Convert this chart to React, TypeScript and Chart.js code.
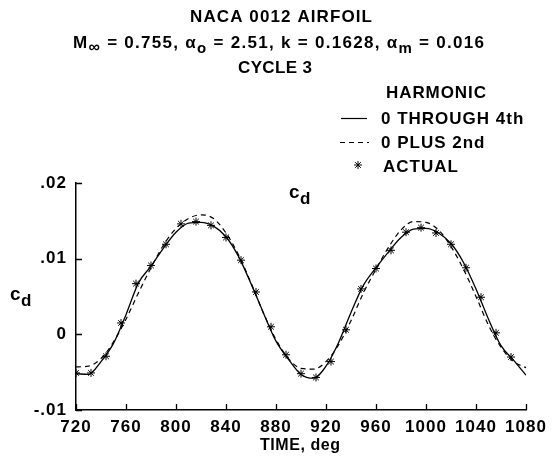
import React, { useEffect, useRef } from "react";
import { Chart, registerables } from "chart.js";

Chart.register(...registerables);

// ---------- data ----------
const curveTime = [720, 730, 740, 750, 760, 770, 780, 790, 800, 810, 820, 830, 840, 850, 860, 870, 880, 890, 900, 910, 920, 930, 940, 950, 960, 970, 980, 990, 1000, 1010, 1020, 1030, 1040, 1050, 1060, 1070, 1080];
const harmonic0to4 = [-0.0052, -0.0053, -0.0036, -0.0012, 0.0026, 0.0068, 0.0090, 0.0114, 0.0135, 0.0147, 0.0148, 0.0143, 0.0129, 0.0103, 0.0067, 0.0028, -0.0009, -0.0033, -0.0053, -0.0058, -0.0042, -0.0011, 0.0029, 0.0065, 0.0088, 0.0109, 0.0128, 0.0139, 0.0140, 0.0134, 0.0120, 0.0095, 0.0060, 0.0020, -0.0015, -0.0034, -0.0054];
const harmonic0plus2 = [-0.0043, -0.0042, -0.0032, -0.0010, 0.0020, 0.0055, 0.0088, 0.0118, 0.0140, 0.0153, 0.0158, 0.0153, 0.0134, 0.0105, 0.0068, 0.0028, -0.0007, -0.0032, -0.0045, -0.0046, -0.0036, -0.0014, 0.0018, 0.0055, 0.0086, 0.0115, 0.0138, 0.0149, 0.0148, 0.0138, 0.0116, 0.0086, 0.0050, 0.0012, -0.0017, -0.0036, -0.0044];
const actualTime = [720, 732, 744, 756, 768, 780, 792, 804, 816, 828, 840, 852, 864, 876, 888, 900, 912, 924, 936, 948, 960, 972, 984, 996, 1008, 1020, 1032, 1044, 1056, 1068];
const actualCd = [-0.0051, -0.0051, -0.0029, 0.0015, 0.0067, 0.0091, 0.0119, 0.0146, 0.0149, 0.0144, 0.0128, 0.0098, 0.0056, 0.0010, -0.0027, -0.0052, -0.0057, -0.0036, 0.0006, 0.0060, 0.0087, 0.0111, 0.0135, 0.0141, 0.0134, 0.0119, 0.0088, 0.0049, 0.0002, -0.0030];

const xTickValues = [720, 760, 800, 840, 880, 920, 960, 1000, 1040, 1080];
const yTickValues = [-0.01, 0, 0.01, 0.02];
const yTickLabels = ["-.01", "0", ".01", ".02"];

const titleLine1 = "NACA 0012 AIRFOIL";
const titleLine3 = "CYCLE 3";
const legendHeader = "HARMONIC";
const legendLabels = ["0 THROUGH 4th", "0 PLUS 2nd", "ACTUAL"];
const xAxisTitle = "TIME, deg";

const FONT = '"Liberation Sans", Arial, Helvetica, sans-serif';
const f = (size: number) => `bold ${size}px ${FONT}`;

type Seg = { t: string; size: number; dy: number };

// draw a run of text segments so that it spans exactly x0..x1 (letter spacing is adjusted)
function drawFit(ctx: CanvasRenderingContext2D, segs: Seg[], x0: number, x1: number, base: number) {
  const c = ctx as any;
  c.letterSpacing = "0px";
  let total = 0;
  let n = 0;
  segs.forEach((s) => {
    ctx.font = f(s.size);
    total += ctx.measureText(s.t).width;
    n += s.t.length;
  });
  const sp = (x1 - x0 - total) / Math.max(1, n - 1);
  c.letterSpacing = `${sp}px`;
  ctx.textAlign = "left";
  ctx.textBaseline = "alphabetic";
  let x = x0;
  segs.forEach((s) => {
    ctx.font = f(s.size);
    ctx.fillText(s.t, x, base + s.dy);
    c.letterSpacing = "0px";
    const w = ctx.measureText(s.t).width;
    c.letterSpacing = `${sp}px`;
    x += w + sp * s.t.length;
  });
}

function drawLeft(ctx: CanvasRenderingContext2D, segs: Seg[], x0: number, base: number, sp = 1) {
  const c = ctx as any;
  ctx.textAlign = "left";
  ctx.textBaseline = "alphabetic";
  let x = x0;
  segs.forEach((s) => {
    ctx.font = f(s.size);
    c.letterSpacing = "0px";
    const w = ctx.measureText(s.t).width;
    c.letterSpacing = `${sp}px`;
    ctx.fillText(s.t, x, base + s.dy);
    x += w + sp * s.t.length;
  });
}

const decorPlugin = {
  id: "decor",
  beforeDraw(chart: any) {
    (chart.ctx as any).letterSpacing = "1px";
  },
  afterDraw(chart: any) {
    const ctx: CanvasRenderingContext2D = chart.ctx;
    const xs = chart.scales.x;
    const ys = chart.scales.y;
    const area = chart.chartArea;
    ctx.save();
    ctx.strokeStyle = "#000";
    ctx.fillStyle = "#000";
    ctx.lineWidth = 1.3;
    // inward tick marks
    ctx.beginPath();
    xTickValues.forEach((v) => {
      const px = Math.round(xs.getPixelForValue(v)) + 0.5;
      ctx.moveTo(px, area.bottom);
      ctx.lineTo(px, area.bottom - 6);
    });
    yTickValues.forEach((v) => {
      const py = Math.round(ys.getPixelForValue(v)) + 0.5;
      ctx.moveTo(area.left, py);
      ctx.lineTo(area.left + 6, py);
    });
    ctx.stroke();

    // titles
    drawFit(ctx, [{ t: titleLine1, size: 17, dy: 0 }], 190, 372, 22);
    drawFit(
      ctx,
      [
        { t: "M", size: 17, dy: 0 },
        { t: "\u221E", size: 16, dy: 4 },
        { t: " = 0.755, \u03B1", size: 17, dy: 0 },
        { t: "o", size: 15, dy: 5 },
        { t: " = 2.51, k = 0.1628, \u03B1", size: 17, dy: 0 },
        { t: "m", size: 15, dy: 5 },
        { t: " = 0.016", size: 17, dy: 0 },
      ],
      73,
      484,
      48
    );
    drawFit(ctx, [{ t: titleLine3, size: 17, dy: 0 }], 238, 312, 73);

    // legend
    drawFit(ctx, [{ t: legendHeader, size: 17, dy: 0 }], 386, 486, 98);
    drawLeft(ctx, [{ t: legendLabels[0], size: 17, dy: 0 }], 381, 124);
    drawLeft(ctx, [{ t: legendLabels[1], size: 17, dy: 0 }], 381, 148);
    drawLeft(ctx, [{ t: legendLabels[2], size: 17, dy: 0 }], 383, 172);
    ctx.lineWidth = 1.2;
    ctx.beginPath();
    ctx.moveTo(341, 118.5);
    ctx.lineTo(367, 118.5);
    ctx.stroke();
    ctx.setLineDash([5, 4]);
    ctx.beginPath();
    ctx.moveTo(340, 142.5);
    ctx.lineTo(369, 142.5);
    ctx.stroke();
    ctx.setLineDash([]);
    // star marker in legend
    ctx.lineWidth = 1;
    ctx.beginPath();
    const sx = 358, sy = 165, r = 4;
    ctx.moveTo(sx - r, sy); ctx.lineTo(sx + r, sy);
    ctx.moveTo(sx, sy - r); ctx.lineTo(sx, sy + r);
    const d = r * 0.707;
    ctx.moveTo(sx - d, sy - d); ctx.lineTo(sx + d, sy + d);
    ctx.moveTo(sx - d, sy + d); ctx.lineTo(sx + d, sy - d);
    ctx.stroke();

    // axis titles
    drawLeft(ctx, [{ t: "c", size: 19, dy: 0 }, { t: "d", size: 17, dy: 6 }], 10, 300, 0.5);
    drawLeft(ctx, [{ t: "c", size: 19, dy: 0 }, { t: "d", size: 17, dy: 6 }], 289, 198, 0.5);
    drawFit(ctx, [{ t: xAxisTitle, size: 16, dy: 0 }], 260, 340, 450);
    ctx.restore();
  },
};

export default function App() {
  const ref = useRef<HTMLCanvasElement | null>(null);
  useEffect(() => {
    if (!ref.current) return;
    const chart = new Chart(ref.current, {
      type: "line",
      data: {
        datasets: [
          {
            label: legendLabels[0],
            data: curveTime.map((x, i) => ({ x, y: harmonic0to4[i] })),
            borderColor: "#000",
            borderWidth: 1.3,
            pointRadius: 0,
            cubicInterpolationMode: "monotone",
            fill: false,
          },
          {
            label: legendLabels[1],
            data: curveTime.map((x, i) => ({ x, y: harmonic0plus2[i] })),
            borderColor: "#000",
            borderWidth: 1.2,
            borderDash: [5, 4],
            pointRadius: 0,
            cubicInterpolationMode: "monotone",
            fill: false,
          },
          {
            label: legendLabels[2],
            data: actualTime.map((x, i) => ({ x, y: actualCd[i] })),
            showLine: false,
            pointStyle: "star",
            pointRadius: 4,
            pointBorderWidth: 1,
            pointBorderColor: "#000",
            pointBackgroundColor: "#000",
            borderColor: "#000",
          },
        ],
      },
      options: {
        responsive: false,
        devicePixelRatio: 1,
        animation: false,
        events: [],
        layout: { padding: { top: 183, right: 27, bottom: 0, left: 0 } },
        plugins: { legend: { display: false }, title: { display: false }, tooltip: { enabled: false } },
        scales: {
          x: {
            type: "linear",
            min: 720,
            max: 1080,
            afterFit: (s: any) => {
              s.height = 48;
            },
            afterBuildTicks: (s: any) => {
              s.ticks = xTickValues.map((v) => ({ value: v }));
            },
            grid: { display: false, drawTicks: false },
            border: { display: true, color: "#000", width: 1.5 },
            ticks: {
              color: "#000",
              padding: 7,
              maxRotation: 0,
              autoSkip: false,
              font: { family: FONT, size: 17, weight: "bold" },
              callback: (v: any) => String(v),
            },
          },
          y: {
            type: "linear",
            min: -0.01,
            max: 0.02,
            afterFit: (s: any) => {
              s.width = 76;
            },
            afterBuildTicks: (s: any) => {
              s.ticks = yTickValues.map((v) => ({ value: v }));
            },
            grid: { display: false, drawTicks: false },
            border: { display: true, color: "#000", width: 1.5 },
            ticks: {
              color: "#000",
              padding: 9,
              autoSkip: false,
              font: { family: FONT, size: 17, weight: "bold" },
              callback: (v: any) => {
                const i = yTickValues.findIndex((t) => Math.abs(t - Number(v)) < 1e-9);
                return i >= 0 ? yTickLabels[i] : "";
              },
            },
          },
        },
      },
      plugins: [decorPlugin],
    } as any);
    return () => chart.destroy();
  }, []);
  return (
    <div style={{ position: "fixed", left: 0, top: 0, width: 553, height: 458, background: "#fff" }}>
      <canvas ref={ref} width={553} height={458} style={{ width: 553, height: 458, display: "block" }} />
    </div>
  );
}
